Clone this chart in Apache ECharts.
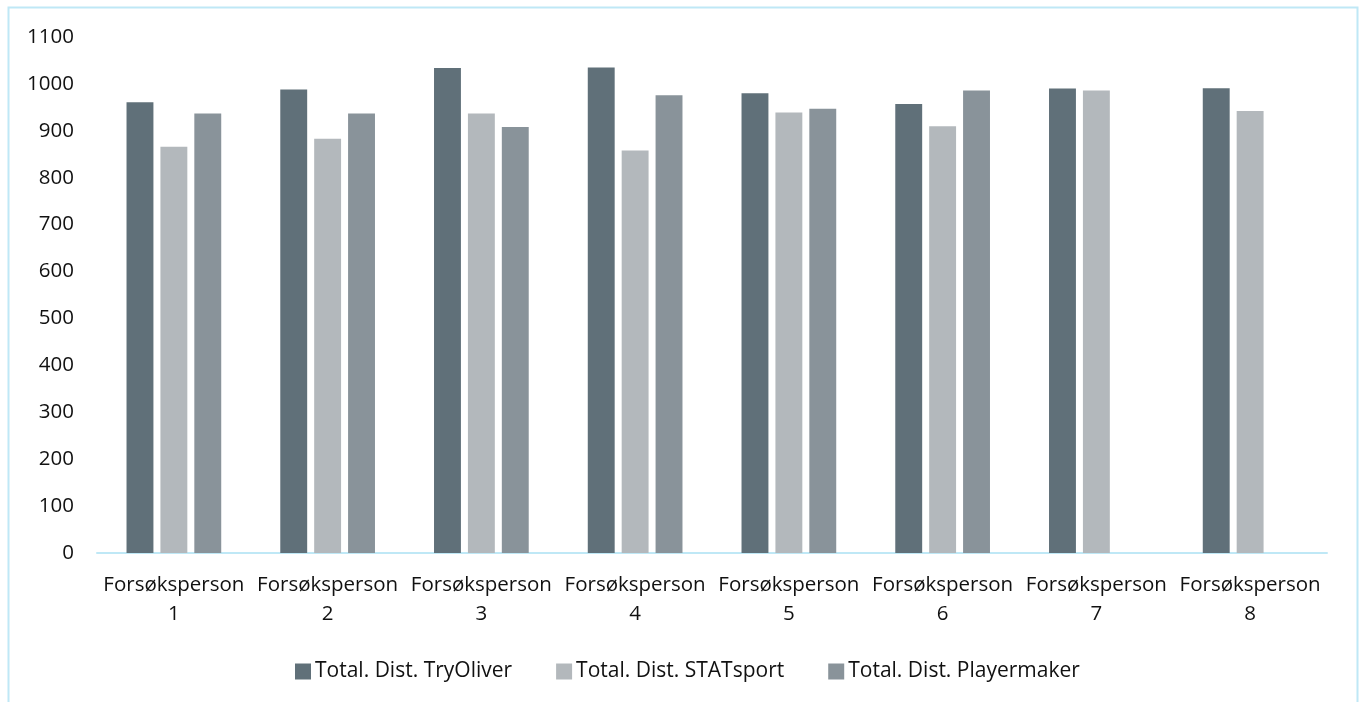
<!DOCTYPE html>
<html>
<head>
<meta charset="utf-8">
<script src="https://cdn.jsdelivr.net/npm/echarts@6/dist/echarts.min.js"></script>
<style>
  html, body { margin: 0; padding: 0; background: #ffffff; }
  #chart { width: 1362px; height: 702px; }
</style>
</head>
<body>
<div id="chart"></div>
<script>
// Total distance per test person, measured by three systems
const categories = ['Forsøksperson\n1', 'Forsøksperson\n2', 'Forsøksperson\n3', 'Forsøksperson\n4',
                    'Forsøksperson\n5', 'Forsøksperson\n6', 'Forsøksperson\n7', 'Forsøksperson\n8'];
const seriesNames = ['Total. Dist. TryOliver', 'Total. Dist. STATsport', 'Total. Dist. Playermaker'];
const tryOliver  = [961, 988, 1034, 1035, 980, 957, 990, 991];
const statSport  = [866, 883, 937, 858, 939, 910, 986, 942];
const playermaker = [937, 937, 908, 976, 947, 986, null, null];
const yTicks = { min: 0, max: 1100, step: 100 };

const colors = ['#607079', '#b3b8bc', '#89939a'];
const fontFamily = '"Open Sans", sans-serif';
const textColor = '#111111';

const chart = echarts.init(document.getElementById('chart'), null, { renderer: 'canvas' });

const values = [tryOliver, statSport, playermaker];
const series = seriesNames.map((name, i) => ({
  name,
  type: 'bar',
  data: values[i],
  barWidth: '17.5%',
  barGap: '26%',
  itemStyle: { color: colors[i] }
}));

chart.setOption({
  animation: false,
  textStyle: { fontFamily },
  graphic: [{
    type: 'rect',
    shape: { x: 8.5, y: 7.5, width: 1349, height: 720 },
    style: { fill: 'none', stroke: '#bfe8f6', lineWidth: 2 },
    silent: true
  }],
  grid: { left: 97, right: 35, top: 37, bottom: 149, containLabel: false },
  legend: {
    top: 656,
    left: 290,
    itemWidth: 16,
    itemHeight: 16,
    itemGap: 44,
    icon: 'rect',
    textStyle: { fontSize: 21, color: textColor, fontFamily, padding: [0, 0, 0, -1] },
    data: seriesNames
  },
  xAxis: {
    type: 'category',
    data: categories,
    axisLine: { lineStyle: { color: '#bfe8f6', width: 2 } },
    axisTick: { show: false },
    axisLabel: { fontSize: 20.5, color: textColor, lineHeight: 29, margin: 18, interval: 0 }
  },
  yAxis: {
    type: 'value',
    min: yTicks.min,
    max: yTicks.max,
    interval: yTicks.step,
    splitLine: { show: false },
    axisLine: { show: false },
    axisTick: { show: false },
    axisLabel: { fontSize: 20.5, color: textColor, margin: 23, formatter: v => String(v) }
  },
  series
});
</script>
</body>
</html>
